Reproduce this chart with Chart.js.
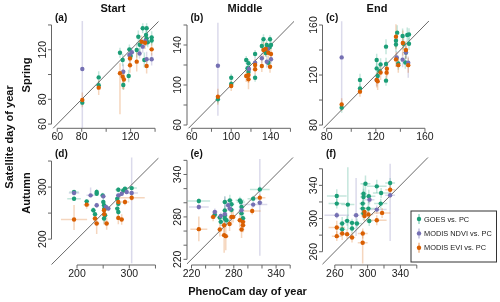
<!DOCTYPE html>
<html><head><meta charset="utf-8">
<script src="https://cdn.jsdelivr.net/npm/chart.js@4.4.1/dist/chart.umd.min.js"></script>
<style>
html,body{margin:0;padding:0;background:#fff;}
#wrap{position:relative;width:500px;height:302px;overflow:hidden;background:#fff;}
#wrap canvas{position:absolute;left:0;top:0;}
</style></head><body>
<div id="wrap"></div>
<script>
// ---------- labels ----------
const seriesNames = ['GOES vs. PC', 'MODIS NDVI vs. PC', 'MODIS EVI vs. PC'];
const columnTitles = ['Start', 'Middle', 'End'];
const rowTitles = ['Spring', 'Autumn'];
const panelLetters = ['(a)', '(b)', '(c)', '(d)', '(e)', '(f)'];
const xAxisTitle = 'PhenoCam day of year';
const yAxisTitle = 'Satellite day of year';

// ---------- ticks ----------
const startSpringTicks = [60, 80, 100, 120, 140];
const startSpringLabels = [60, 80, 120];
const middleSpringTicks = [60, 80, 100, 120, 140, 160];
const middleSpringLabels = [60, 100, 140];
const endSpringTicks = [80, 100, 120, 140, 160];
const endSpringLabels = [80, 120, 160];
const startAutumnTicks = [200, 250, 300, 350];
const startAutumnLabels = [200, 300];
const middleAutumnTicks = [220, 240, 260, 280, 300, 320, 340, 360];
const middleAutumnLabels = [220, 280, 340];
const endAutumnTicks = [260, 280, 300, 320, 340, 360];
const endAutumnLabels = [260, 300, 340];

// ---------- data: [PhenoCam DOY, satellite DOY, x half-range, y lower, y upper] ----------
const startSpringGOES = [
 [80.5,77.3,0,2,2],[93.9,97.7,0,5,5],[93.9,91.3,0,3,3],[111.3,117.6,0,4,4],[113.5,111.7,0,5,5],
 [114,91.6,0,4,4],[118.4,98.8,0,5,5],[119,120.3,0,6,4],[120,115,0,3,3],[125,119.8,0,6,6],
 [126.3,130.5,0,7,5],[127.5,124,0,5,5],[129.9,137.3,0,4,4],[133.1,137.3,0,4,4],[132.6,131.9,0,5,5],
 [133.1,129.2,0,6,6],[131.2,111.7,0,6,6],[137.2,130,0,5,5],[137.2,127.5,0,4,4],[134,126,0,4,4]
];
const startSpringNDVI = [
 [80.5,104.5,0,48,39],[114,102.3,0,6,6],[119,115.8,0,5,5],[121,118,0,4,4],[127.3,117,0,4,4],
 [129.9,122.5,0,5,5],[133.1,112.3,0,6,6],[137.2,112.3,0,5,5],[132,127,0,4,4]
];
const startSpringEVI = [
 [80.5,79.5,0,6,6],[93.9,89.4,0,6,6],[111.3,101,0,33,8],[113.5,98.3,0,10,6],[114.5,96,0,8,6],
 [119.5,113,0,5,5],[119.5,107.5,0,6,6],[125,110.4,0,8,8],[129,126.5,0,5,5],[131.8,125.7,0,5,5],
 [133.1,106.9,0,6,6],[137.2,120.3,0,5,5]
];

const middleSpringGOES = [
 [86.5,85.7,0,4,4],[100,107.3,0,4,4],[100,101,0,3,3],[115.2,125,0,4,4],[116.5,116.7,0,5,5],
 [117.5,121.7,0,4,4],[117.5,113,0,4,4],[124.2,131,0,4,4],[124.2,107.3,0,4,4],[131,139,0,5,5],
 [132.7,145.7,0,5,5],[134.3,135,0,4,4],[136,140,0,5,5],[137.6,137,0,4,4],[139.3,145.7,0,4,4],
 [140.3,140,0,4,4],[137.6,122.3,0,4,4],[135,132,0,4,4],[139,138,0,4,4]
];
const middleSpringNDVI = [
 [86.5,119.3,0,50,43],[124.2,122.3,0,5,5],[131,126.7,0,5,5],[136,123.3,0,6,6],[140.3,125.7,0,5,5],
 [137,136,0,4,4],[118,116,0,4,4]
];
const middleSpringEVI = [
 [86.5,88.3,0,8,8],[100,99,0,5,5],[115.2,109,0,6,6],[117.5,110,0,8,8],[117.5,105.7,0,10,6],
 [124.2,120,0,6,6],[124.2,115.7,0,5,5],[132.7,135,0,8,8],[131,119,0,6,6],[137.6,132.3,0,6,6],
 [139.3,118.3,0,6,6],[140.3,131,0,6,6],[135,136,0,7,7]
];

const endSpringGOES = [
 [92.2,93.9,0,4,4],[107.1,116,0,5,5],[107.1,109.3,0,4,4],[120.7,132,0,5,5],[120.7,125.3,0,5,5],
 [121.5,119.2,0,5,5],[123.9,128.5,0,5,5],[123,123,0,4,4],[128.3,142.7,0,6,6],[128.3,128.8,0,5,5],
 [128.3,115.5,0,4,4],[136.4,147.5,0,6,6],[137.4,153.9,0,6,6],[136.4,144.4,0,6,6],[138.3,129.3,0,5,5],
 [141.8,151.2,0,6,6],[142.5,145,0,5,5],[144.5,138,0,5,5],[145.6,152,0,6,6],[147,152.5,0,5,5],
 [144,130,0,5,5],[147,145,0,5,5]
];
const endSpringNDVI = [
 [92.2,134.1,0,39,29],[120.7,116,0,5,5],[137,134,0,5,5],[141.8,132.3,0,6,6],[144.5,138,0,5,5],
 [146.4,129.8,0,12,5]
];
const endSpringEVI = [
 [92.2,96.5,0,5,5],[107.1,106.7,0,4,4],[120.7,116,0,6,6],[121.5,115,0,7,7],[123.9,122,0,6,6],
 [128.8,121.9,0,6,6],[129,125,0,6,6],[136.4,150.7,0,10,10],[136.4,132.5,0,6,6],[138.3,127.9,0,6,6],
 [142,145.6,0,10,10],[144.5,140,0,7,7],[146.4,127.9,0,6,6]
];

const startAutumnGOES = [
 [194.3,290.4,9,4,4],[194.3,277.7,13,4,4],[218.5,272.6,4,4,4],[231.2,255.4,5,6,6],[237.6,290.4,4,6,6],
 [237.6,287.3,4,4,4],[234.4,247.8,4,5,5],[249,284,4,5,5],[250.3,271.3,4,8,8],[251.6,265,4,8,8],
 [252.2,258.6,4,10,10],[253.5,245.9,5,12,12],[251.6,239.5,4,10,10],[279,294.9,6,5,5],[277,277.7,4,6,6],
 [279,268,4,6,6],[277,258.6,4,8,8],[279,252.2,4,8,8],[288.5,293.6,5,4,4],[291.7,296.8,4,4,4],
 [304.5,298,10,4,4]
];
const startAutumnNDVI = [
 [194.3,288.5,10,4,4],[226,284.1,8,4,15],[237.6,265,4,5,5],[250.3,282.2,4,5,5],[255.4,261.8,4,5,5],
 [259.9,258.6,4,5,5],[279,284.1,4,5,5],[285.4,287.3,4,4,4],[294.9,290.4,5,4,4],[304.5,288.5,12,135,70]
];
const startAutumnEVI = [
 [194.3,237.6,25,20,28],[218.5,266.2,6,8,8],[234.4,239.5,5,10,10],[237.6,230,5,20,10],[251.6,255.4,4,8,8],
 [252.2,247.8,4,20,15],[256.7,230,4,12,12],[279,240.8,4,12,12],[285.4,237.6,4,10,10],[291.7,271.3,8,6,6],
 [304.5,279.6,25,6,6],[279,271.3,4,6,6]
];

const middleAutumnGOES = [
 [230.4,302.5,16,4,4],[253,283,4,5,5],[261.6,273,4,6,6],[260,279,4,5,5],[267.3,301.1,4,8,8],
 [267.3,289,4,6,6],[267.3,282,4,6,6],[267.3,277.5,4,6,6],[269.6,275.3,4,6,6],[274.4,303.4,4,8,8],
 [276.7,290,4,5,5],[276.7,298,4,5,5],[288.6,303.4,6,5,5],[290,301,6,5,5],[291,294,4,5,5],
 [290.9,285,4,6,6],[293,278,4,6,6],[307.5,305.8,8,4,4],[316.9,318.9,14,4,4]
];
const middleAutumnNDVI = [
 [230.4,294,14,4,4],[253.1,287,4,5,5],[261.6,281.4,4,5,5],[267.3,284,4,15,25],[272,296.4,4,5,5],
 [274.4,291.7,4,5,5],[290.9,289.4,4,5,5],[307.5,297.4,20,4,4],[316.9,300,4,75,62]
];
const middleAutumnEVI = [
 [230.4,262.7,12,17,18],[250.7,280,4,6,6],[260.2,262.2,4,10,10],[266.3,268.3,4,15,15],[266.3,254.2,4,25,15],
 [268.6,252.8,4,20,15],[276.7,280,4,8,8],[279,280,4,8,8],[274,270,4,10,10],[288.6,275.3,4,10,10],
 [293,273,4,8,8],[293,268.3,4,10,10],[291,262.2,4,12,12],[306.1,288.4,12,5,5],[316.9,307.2,8,5,5]
];

const endAutumnGOES = [
 [262.4,327.2,12,8,8],[262.4,318,10,6,6],[269,294,4,8,8],[269,287,4,6,6],[275,297.2,4,6,6],
 [275.9,316.8,8,30,45],[281,294.8,4,5,5],[281,288,4,5,5],[287,294,6,6,6],[295,330,4,12,12],
 [295,326,4,10,10],[294,318,4,10,10],[294,312,4,8,8],[295,306,4,8,8],[297.4,342,6,15,10],
 [301.5,326.8,8,8,8],[301,312,8,8,8],[302,297,4,6,6],[311.2,338.8,12,8,8],[316.5,330.8,10,6,6],
 [316,318,8,6,6],[327.5,342.8,6,6,6]
];
const endAutumnNDVI = [
 [262.4,304,15,4,4],[286,304,4,25,45],[302.3,322.8,6,6,6],[311.2,310.8,12,5,5],[327.5,328,6,55,38]
];
const endAutumnEVI = [
 [262.4,289.2,10,8,8],[262.4,278.8,6,6,6],[269,282,4,8,8],[275,281.2,4,6,6],[281,277.2,4,6,6],
 [294.1,282,6,6,6],[294,270.8,6,25,15],[296.2,308,4,6,6],[296.2,303,4,6,6],[301,305,6,6,6],
 [311.2,298,12,6,6],[317.7,306.8,10,6,6],[327.5,334.8,6,10,10]
];

// ---------- styling / layout (not data) ----------
const COLORS = ['#1B9E77', '#7570B3', '#D95F02'];
const ERR_COLORS = ['rgba(27,158,119,0.26)', 'rgba(117,112,179,0.26)', 'rgba(217,95,2,0.26)'];
const LEG_ERR_COLORS = ['rgba(27,158,119,0.45)', 'rgba(117,112,179,0.45)', 'rgba(217,95,2,0.45)'];
const FONT = '"Liberation Sans", Arial, Helvetica, sans-serif';
const COL_LEFT = [51.5, 187, 322.5];
const PLOT_W = 107;
const ROW_TB = [[21, 128.3], [157.5, 265]];

const panels = [
 {col:0,row:0,xr:[55.3,142.8],yr:[56.6,143.2],ticks:startSpringTicks,labels:startSpringLabels,series:[startSpringGOES,startSpringNDVI,startSpringEVI]},
 {col:1,row:0,xr:[55.2,163.6],yr:[56.7,164],ticks:middleSpringTicks,labels:middleSpringLabels,series:[middleSpringGOES,middleSpringNDVI,middleSpringEVI]},
 {col:2,row:0,xr:[76.6,163.7],yr:[77.4,163.2],ticks:endSpringTicks,labels:endSpringLabels,series:[endSpringGOES,endSpringNDVI,endSpringEVI]},
 {col:0,row:1,xr:[151.2,355.8],yr:[150.3,356.8],ticks:startAutumnTicks,labels:startAutumnLabels,series:[startAutumnGOES,startAutumnNDVI,startAutumnEVI]},
 {col:1,row:1,xr:[213.6,365.4],yr:[212,364],ticks:middleAutumnTicks,labels:middleAutumnLabels,series:[middleAutumnGOES,middleAutumnNDVI,middleAutumnEVI]},
 {col:2,row:1,xr:[245,375.5],yr:[244,373.6],ticks:endAutumnTicks,labels:endAutumnLabels,series:[endAutumnGOES,endAutumnNDVI,endAutumnEVI]}
];

const errorBars = {
  id: 'errorBars',
  beforeDatasetsDraw(chart) {
    const {ctx, chartArea: a, scales: {x, y}} = chart;
    ctx.save();
    ctx.beginPath(); ctx.rect(a.left, a.top, a.right - a.left, a.bottom - a.top); ctx.clip();
    ctx.lineWidth = 1.5;
    chart.data.datasets.forEach(ds => {
      if (!ds.errColor) return;
      ctx.strokeStyle = ds.errColor;
      ds.data.forEach(p => {
        const px = x.getPixelForValue(p.x), py = y.getPixelForValue(p.y);
        if (p.eyl || p.eyh) {
          ctx.beginPath();
          ctx.moveTo(px, y.getPixelForValue(p.y - p.eyl));
          ctx.lineTo(px, y.getPixelForValue(p.y + p.eyh));
          ctx.stroke();
        }
        if (p.ex) {
          ctx.beginPath();
          ctx.moveTo(x.getPixelForValue(p.x - p.ex), py);
          ctx.lineTo(x.getPixelForValue(p.x + p.ex), py);
          ctx.stroke();
        }
      });
    });
    ctx.restore();
  }
};

const rAxes = {
  id: 'rAxes',
  afterDraw(chart, args, o) {
    const {ctx, chartArea: a, scales: {x, y}} = chart;
    ctx.save();
    ctx.strokeStyle = '#666'; ctx.lineWidth = 1; ctx.fillStyle = '#1a1a1a';
    const t = o.ticks;
    const yb = a.bottom;
    ctx.beginPath();
    ctx.moveTo(x.getPixelForValue(t[0]), yb); ctx.lineTo(x.getPixelForValue(t[t.length - 1]), yb);
    t.forEach(v => { const px = x.getPixelForValue(v); ctx.moveTo(px, yb); ctx.lineTo(px, yb + 3.5); });
    const xl = a.left;
    ctx.moveTo(xl, y.getPixelForValue(t[0])); ctx.lineTo(xl, y.getPixelForValue(t[t.length - 1]));
    t.forEach(v => { const py = y.getPixelForValue(v); ctx.moveTo(xl, py); ctx.lineTo(xl - 3.5, py); });
    ctx.stroke();
    ctx.font = '10.5px ' + FONT;
    ctx.textAlign = 'center'; ctx.textBaseline = 'middle';
    o.labels.forEach(v => ctx.fillText(String(v), x.getPixelForValue(v), yb + 8.8));
    o.labels.forEach(v => {
      ctx.save();
      ctx.translate(xl - 8.6, y.getPixelForValue(v));
      ctx.rotate(-Math.PI / 2);
      ctx.fillText(String(v), 0, 0);
      ctx.restore();
    });
    ctx.font = 'bold 10px ' + FONT;
    ctx.textAlign = 'left'; ctx.fillStyle = '#111';
    ctx.fillText(o.letter, a.left + 3.5, a.top - 3);
    (o.texts || []).forEach(tx => {
      ctx.save();
      ctx.font = tx.font; ctx.fillStyle = '#111';
      ctx.textAlign = 'center'; ctx.textBaseline = 'middle';
      ctx.translate(tx.x, tx.y);
      if (tx.rot) ctx.rotate(-Math.PI / 2);
      ctx.fillText(tx.text, 0, 0);
      ctx.restore();
    });
    if (o.legend) {
      const L = o.legend;
      ctx.strokeStyle = '#333'; ctx.lineWidth = 1;
      ctx.strokeRect(L.x + 0.5, L.y + 0.5, L.w, L.h);
      ctx.font = '7.4px ' + FONT; ctx.textAlign = 'left'; ctx.textBaseline = 'middle';
      seriesNames.forEach((name, i) => {
        const cy = L.y + 8.5 + i * 14.4, cx = L.x + 8.5;
        ctx.strokeStyle = LEG_ERR_COLORS[i]; ctx.lineWidth = 1.5;
        ctx.beginPath(); ctx.moveTo(cx, cy - 5); ctx.lineTo(cx, cy + 5); ctx.stroke();
        ctx.fillStyle = COLORS[i];
        ctx.beginPath(); ctx.arc(cx, cy, 2.2, 0, Math.PI * 2); ctx.fill();
        ctx.fillStyle = '#1a1a1a';
        ctx.fillText(name, L.x + 13.5, cy + 0.5);
      });
    }
    ctx.restore();
  }
};

const wrap = document.getElementById('wrap');
const bold = 'bold 11px ' + FONT;
const colTitleX = [113, 245, 377];

panels.forEach((p, idx) => {
  const cv = document.createElement('canvas');
  cv.width = 500; cv.height = 302;
  wrap.appendChild(cv);
  const left = COL_LEFT[p.col], right = left + PLOT_W;
  const [top, bottom] = ROW_TB[p.row];
  const texts = [];
  if (p.row === 0) texts.push({text: columnTitles[p.col], x: colTitleX[p.col], y: 9, font: bold});
  if (p.col === 0) texts.push({text: rowTitles[p.row], x: 27, y: p.row === 0 ? 75 : 193, font: bold, rot: true});
  if (idx === 0) texts.push({text: yAxisTitle, x: 10, y: 137, font: bold, rot: true});
  if (idx === 4) texts.push({text: xAxisTitle, x: 247.5, y: 291.5, font: bold});
  const datasets = p.series.map((s, i) => ({
    label: seriesNames[i],
    data: s.map(r => ({x: r[0], y: r[1], ex: r[2], eyl: r[3], eyh: r[4]})),
    backgroundColor: COLORS[i], borderWidth: 0, pointRadius: 2.2, pointHoverRadius: 2.2,
    errColor: ERR_COLORS[i], order: 3 - i
  }));
  datasets.push({
    label: '1:1', type: 'scatter', showLine: true,
    data: [{x: 0, y: 0}, {x: 500, y: 500}],
    borderColor: '#444', borderWidth: 0.8, pointRadius: 0, clip: 0, order: 10
  });
  new Chart(cv, {
    type: 'scatter',
    data: {datasets},
    options: {
      responsive: false, animation: false, devicePixelRatio: 1,
      layout: {padding: {left: left, right: 500 - right, top: top, bottom: 302 - bottom}},
      scales: {
        x: {type: 'linear', display: false, min: p.xr[0], max: p.xr[1]},
        y: {type: 'linear', display: false, min: p.yr[0], max: p.yr[1]}
      },
      plugins: {
        legend: {display: false}, tooltip: {enabled: false},
        rAxes: {ticks: p.ticks, labels: p.labels, letter: panelLetters[idx], texts,
                legend: idx === 5 ? {x: 410.5, y: 210.5, w: 85.5, h: 51} : null}
      }
    },
    plugins: [errorBars, rAxes]
  });
});
</script>
</body></html>
